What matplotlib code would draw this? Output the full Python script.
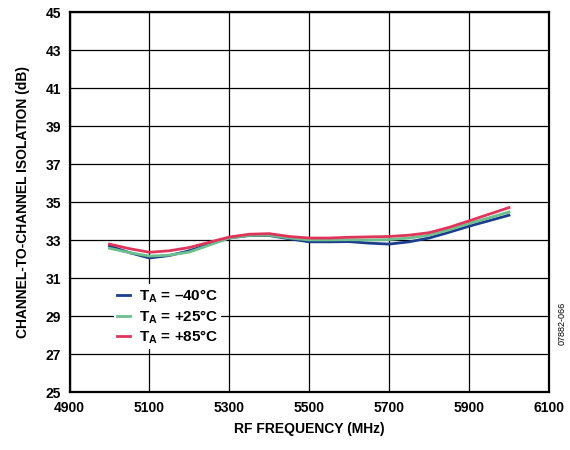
import matplotlib
matplotlib.use("Agg")
import matplotlib.pyplot as plt

plt.rcParams['font.family'] = ['Liberation Sans', 'DejaVu Sans']
plt.rcParams['font.weight'] = 'bold'
plt.rcParams['mathtext.fontset'] = 'custom'
plt.rcParams['mathtext.rm'] = 'Liberation Sans:bold'
plt.rcParams['mathtext.bf'] = 'Liberation Sans:bold'

# frequency (MHz)
freq = [5000, 5050, 5100, 5150, 5200, 5250, 5300, 5350, 5400, 5450, 5500,
        5550, 5600, 5650, 5700, 5750, 5800, 5850, 5900, 5950, 6000]
# isolation (dB) per temperature
iso_m40 = [32.70, 32.35, 32.07, 32.20, 32.45, 32.80, 33.12, 33.25, 33.25, 33.08, 32.92,
           32.92, 32.93, 32.85, 32.80, 32.92, 33.12, 33.42, 33.74, 34.03, 34.32]
iso_p25 = [32.58, 32.35, 32.17, 32.22, 32.38, 32.75, 33.12, 33.26, 33.27, 33.12, 33.02,
           33.02, 33.03, 33.02, 33.04, 33.12, 33.27, 33.55, 33.88, 34.18, 34.49]
iso_p85 = [32.80, 32.56, 32.37, 32.45, 32.62, 32.90, 33.17, 33.32, 33.35, 33.20, 33.12,
           33.12, 33.16, 33.18, 33.20, 33.27, 33.40, 33.68, 34.02, 34.37, 34.72]
labels = ['T$_\\mathrm{A}$ = \u201340\u00b0C', 'T$_\\mathrm{A}$ = +25\u00b0C', 'T$_\\mathrm{A}$ = +85\u00b0C']
colors = ['#1b3d8c', '#6dbf8e', '#e0345a']

xticks = [4900, 5100, 5300, 5500, 5700, 5900, 6100]
yticks = [25, 27, 29, 31, 33, 35, 37, 39, 41, 43, 45]

fig = plt.figure(figsize=(5.7, 4.5), dpi=100)
ax = fig.add_axes([0.122, 0.128, 0.841, 0.845])

for y, c, lab in zip([iso_m40, iso_p25, iso_p85], colors, labels):
    ax.plot(freq, y, color=c, lw=2.0, label=lab, zorder=3)

ax.set_xlim(4900, 6100)
ax.set_ylim(25, 45)
ax.set_xticks(xticks)
ax.set_yticks(yticks)
ax.grid(True, color='black', lw=0.9)
ax.tick_params(length=0, labelsize=10, pad=6)
for s in ax.spines.values():
    s.set_linewidth(1.6)

ax.set_xlabel('RF FREQUENCY (MHz)', fontsize=10, fontweight='bold', labelpad=5)
ax.set_ylabel('CHANNEL-TO-CHANNEL ISOLATION (dB)', fontsize=10, fontweight='bold', labelpad=11)

leg = ax.legend(loc='lower left', bbox_to_anchor=(0.092, 0.113), frameon=True,
                fontsize=11, handlelength=0.85, handletextpad=0.6,
                labelspacing=0.2, borderpad=0.2, borderaxespad=0)
leg.get_frame().set_edgecolor('none')
leg.get_frame().set_facecolor('white')
leg.get_frame().set_alpha(1)
leg.set_zorder(5)

fig.text(0.987, 0.233, '07882-066', rotation=90, fontsize=6.5, fontweight='normal',
         ha='center', va='bottom')

fig.savefig('out.png', dpi=100)
